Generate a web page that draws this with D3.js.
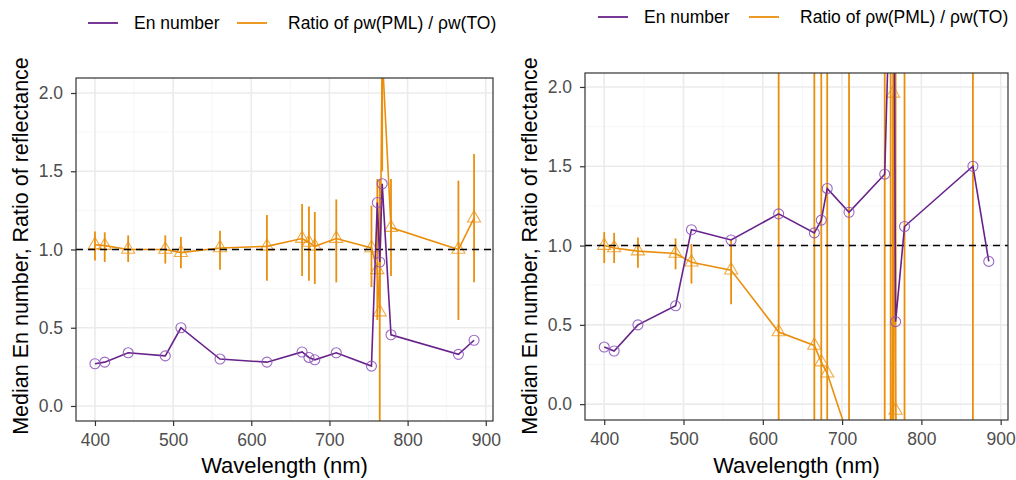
<!DOCTYPE html>
<html>
<head>
<meta charset="utf-8">
<script src="https://cdn.jsdelivr.net/npm/d3@7"></script>
<style>
  body { margin: 0; background: #fff; }
  svg { font-family: "Liberation Sans", Arial, sans-serif; }
</style>
</head>
<body>
<div id="my_dataviz"></div>
<script>
// Band centres (nm)
const wavelengths = [400, 412.5, 442.5, 490, 510, 560, 620, 665, 673.75, 681.25, 708.75, 753.75, 761.25, 764.375, 767.5, 778.75, 865, 885];

// Left panel
const enLeft = [0.27, 0.28, 0.34, 0.32, 0.50, 0.30, 0.28, 0.345, 0.31, 0.295, 0.34, 0.255, 1.30, 0.92, 1.42, 0.455, 0.33, 0.42];
const ratioLeft = [1.03, 1.025, 1.0, 1.0, 0.98, 1.01, 1.02, 1.07, 1.045, 1.02, 1.07, 1.01, 0.87, 0.60, 2.25, 1.14, 1.0, 1.2];
const ratioLeftLo = [0.93, 0.92, 0.92, 0.91, 0.88, 0.87, 0.80, 0.83, 0.80, 0.78, 0.79, 0.76, 0.55, -0.5, 1.5, 0.83, 0.55, 0.79];
const ratioLeftHi = [1.115, 1.11, 1.09, 1.09, 1.08, 1.12, 1.22, 1.29, 1.275, 1.24, 1.32, 1.28, 1.45, 1.45, 3.0, 1.45, 1.44, 1.61];

// Right panel
const enRight = [0.36, 0.335, 0.50, 0.62, 1.10, 1.035, 1.20, 1.08, 1.16, 1.36, 1.21, 1.45, 2.8, 4.0, 0.52, 1.12, 1.50, 0.90];
const ratioRight = [1.0, 0.985, 0.965, 0.95, 0.895, 0.845, 0.455, 0.37, 0.265, 0.195, -0.22, -1.0, -3.0, 1.96, -0.04, -2.0, -2.0, null];
const ratioRightLo = [0.89, 0.89, 0.86, 0.85, 0.76, 0.63, -10, -10, -10, -10, -10, -10, -10, -10, -10, -10, -10, null];
const ratioRightHi = [1.085, 1.08, 1.05, 1.045, 1.01, 1.035, 10, 10, 10, 10, 10, 10, 10, 10, 10, 10, 10, null];

const xTicks = [400, 500, 600, 700, 800, 900];
const yTicks = [0, 0.5, 1.0, 1.5, 2.0];
const seriesNames = ["En number", "Ratio of \u03C1w(PML) / \u03C1w(TO)"];

const purple = "#68228B";
const orange = "#EA8F0C";

const svg = d3.select("#my_dataviz")
  .append("svg")
    .attr("width", 1016)
    .attr("height", 480);

function drawPanel(cfg) {
  const x = d3.scaleLinear().domain([375.75, 909.25]).range([cfg.left, cfg.right]);
  const y = d3.scaleLinear().domain(cfg.yDomain).range([cfg.bottom, cfg.top]);
  const g = svg.append("g");

  // panel background + grid
  g.append("rect")
    .attr("x", cfg.left).attr("y", cfg.top)
    .attr("width", cfg.right - cfg.left).attr("height", cfg.bottom - cfg.top)
    .attr("fill", "#fff");

  const minorX = [450, 550, 650, 750, 850];
  const minorY = [0.25, 0.75, 1.25, 1.75];
  g.selectAll(".mx").data(minorX).join("line")
    .attr("x1", d => x(d)).attr("x2", d => x(d))
    .attr("y1", cfg.top).attr("y2", cfg.bottom)
    .attr("stroke", "#f4f4f4").attr("stroke-width", 0.8);
  g.selectAll(".my").data(minorY).join("line")
    .attr("y1", d => y(d)).attr("y2", d => y(d))
    .attr("x1", cfg.left).attr("x2", cfg.right)
    .attr("stroke", "#f4f4f4").attr("stroke-width", 0.8);
  g.selectAll(".gx").data(xTicks).join("line")
    .attr("x1", d => x(d)).attr("x2", d => x(d))
    .attr("y1", cfg.top).attr("y2", cfg.bottom)
    .attr("stroke", "#ebebeb").attr("stroke-width", 1.6);
  g.selectAll(".gy").data(yTicks).join("line")
    .attr("y1", d => y(d)).attr("y2", d => y(d))
    .attr("x1", cfg.left).attr("x2", cfg.right)
    .attr("stroke", "#ebebeb").attr("stroke-width", 1.6);

  // clip to panel
  const clipId = "clip" + cfg.id;
  svg.append("clipPath").attr("id", clipId)
    .append("rect")
      .attr("x", cfg.left).attr("y", cfg.top)
      .attr("width", cfg.right - cfg.left).attr("height", cfg.bottom - cfg.top);
  const plot = g.append("g").attr("clip-path", `url(#${clipId})`);

  const en = wavelengths.map((w, i) => ({ w: w, v: cfg.en[i] }));
  const ratio = wavelengths.map((w, i) => ({ w: w, v: cfg.ratio[i], lo: cfg.lo[i], hi: cfg.hi[i] }))
    .filter(d => d.v !== null);

  // error bars
  plot.selectAll(".err").data(ratio).join("line")
    .attr("x1", d => x(d.w)).attr("x2", d => x(d.w))
    .attr("y1", d => y(d.lo)).attr("y2", d => y(d.hi))
    .attr("stroke", orange).attr("stroke-width", 1.8);

  const line = d3.line().x(d => x(d.w)).y(d => y(d.v));

  plot.append("path").datum(ratio)
    .attr("d", line)
    .attr("fill", "none").attr("stroke", orange).attr("stroke-width", 1.6);

  const tri = d3.symbol().type(d3.symbolTriangle).size(75);
  plot.selectAll(".tri").data(ratio).join("path")
    .attr("d", tri)
    .attr("transform", d => `translate(${x(d.w)},${y(d.v)})`)
    .attr("fill", "none").attr("stroke", orange).attr("stroke-opacity", 0.75).attr("stroke-width", 1.1);

  // reference line at 1
  plot.append("line")
    .attr("x1", cfg.left).attr("x2", cfg.right)
    .attr("y1", y(1)).attr("y2", y(1))
    .attr("stroke", "#000").attr("stroke-width", 1.6).attr("stroke-dasharray", "7,5");

  plot.append("path").datum(en)
    .attr("d", line)
    .attr("fill", "none").attr("stroke", purple).attr("stroke-width", 1.6);

  plot.selectAll(".circ").data(en).join("circle")
    .attr("cx", d => x(d.w)).attr("cy", d => y(d.v)).attr("r", 5)
    .attr("fill", "none").attr("stroke", "#8a4fb8").attr("stroke-opacity", 0.85).attr("stroke-width", 1.1);

  // border
  g.append("rect")
    .attr("x", cfg.left).attr("y", cfg.top)
    .attr("width", cfg.right - cfg.left).attr("height", cfg.bottom - cfg.top)
    .attr("fill", "none").attr("stroke", "#333").attr("stroke-width", 1.2);

  // axes
  const xAxis = g.append("g")
    .attr("transform", `translate(0,${cfg.bottom})`)
    .call(d3.axisBottom(x).tickValues(xTicks).tickSize(5).tickSizeOuter(0).tickPadding(8));
  const yAxis = g.append("g")
    .attr("transform", `translate(${cfg.left},0)`)
    .call(d3.axisLeft(y).tickValues(yTicks).tickFormat(d3.format(".1f")).tickSize(5).tickSizeOuter(0).tickPadding(8));
  [xAxis, yAxis].forEach(a => {
    a.select(".domain").remove();
    a.selectAll(".tick line").attr("stroke", "#333").attr("stroke-width", 1.2);
    a.selectAll(".tick text").attr("fill", "#4d4d4d").style("font-size", "17.5px")
      .style("font-family", "'Liberation Sans', Arial, sans-serif");
  });

  g.append("text")
    .attr("x", (cfg.left + cfg.right) / 2).attr("y", 473)
    .attr("text-anchor", "middle").style("font-size", "22px")
    .text("Wavelength (nm)");

  g.append("text")
    .attr("transform", `translate(${cfg.ylabX},${cfg.ylabY}) rotate(-90)`)
    .attr("text-anchor", "middle").style("font-size", "21.5px")
    .text("Median En number, Ratio of reflectance");

  // legend
  const leg = g.append("g").attr("transform", `translate(0,${cfg.legY})`);
  const keys = [[cfg.legX[0], cfg.legX[1], purple, seriesNames[0]], [cfg.legX[2], cfg.legX[3], orange, seriesNames[1]]];
  keys.forEach(k => {
    leg.append("line").attr("x1", k[0]).attr("x2", k[0] + 30).attr("y1", 0).attr("y2", 0)
      .attr("stroke", k[2]).attr("stroke-width", 1.8);
    leg.append("text").attr("x", k[1]).attr("y", 6).style("font-size", "17.5px").text(k[3]);
  });
}

drawPanel({
  id: "L", left: 76, right: 493, top: 78, bottom: 421, yDomain: [-0.096, 2.096],
  en: enLeft, ratio: ratioLeft, lo: ratioLeftLo, hi: ratioLeftHi,
  ylabX: 28, ylabY: 246, legY: 23, legX: [88, 134, 237, 288]
});

drawPanel({
  id: "R", left: 585, right: 1008, top: 73, bottom: 420, yDomain: [-0.1, 2.088],
  en: enRight, ratio: ratioRight, lo: ratioRightLo, hi: ratioRightHi,
  ylabX: 537, ylabY: 246, legY: 17, legX: [598, 644, 749, 800]
});
</script>
</body>
</html>
